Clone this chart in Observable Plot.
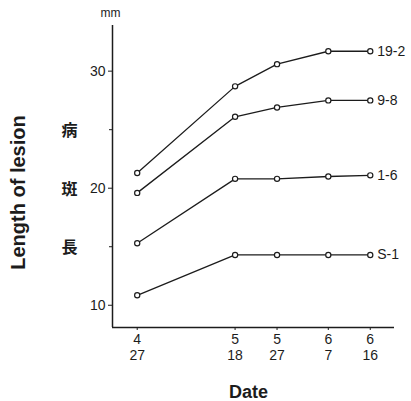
<!DOCTYPE html>
<html><head><meta charset="utf-8">
<script src="https://cdn.jsdelivr.net/npm/d3@7"></script>
<script src="https://cdn.jsdelivr.net/npm/@observablehq/plot@0.6"></script>
<style>body{margin:0;background:#fff}</style>
</head><body><div id="chart"></div>
<script>
// Dates (days after April 27) and their two-line labels (month / day)
const dayOffsets = [0, 21, 30, 41, 50];
const dateLabels = ["4\n27", "5\n18", "5\n27", "6\n7", "6\n16"];
// Series
const seriesNames = ["19-2", "9-8", "1-6", "S-1"];
const values_19_2 = [21.3, 28.7, 30.6, 31.7, 31.7];
const values_9_8  = [19.6, 26.1, 26.9, 27.5, 27.5];
const values_1_6  = [15.3, 20.8, 20.8, 21.0, 21.1];
const values_S_1  = [10.85, 14.3, 14.3, 14.3, 14.3];
const yTickLabels = [10, 20, 30];
const yMinorTicks = [15, 25];

const allValues = [values_19_2, values_9_8, values_1_6, values_S_1];
const rows = [];
seriesNames.forEach((name, i) => {
  dayOffsets.forEach((d, j) => rows.push({series: name, day: d, value: allValues[i][j]}));
});
const ends = rows.filter(r => r.day === dayOffsets[dayOffsets.length - 1]);

const xDomain = [-5.3, 55.2];
const yDomain = [8.1, 33.9];
const ink = "#1c1c1c";
const font = "Liberation Sans, Arial, sans-serif";

const chart = Plot.plot({
  width: 411,
  height: 401,
  marginLeft: 112,
  marginRight: 17,
  marginTop: 25,
  marginBottom: 74,
  style: {fontFamily: font, fontSize: "14px", color: ink, background: "#fff"},
  x: {domain: xDomain},
  y: {domain: yDomain},
  marks: [
    Plot.ruleX([xDomain[0]], {y1: yDomain[0], y2: yDomain[1], stroke: ink, strokeWidth: 1.5}),
    Plot.ruleY([yDomain[0]], {x1: xDomain[0], x2: xDomain[1], stroke: ink, strokeWidth: 1.5}),
    Plot.axisY({ticks: yTickLabels, tickSize: 4, tickPadding: 3, label: null, fontSize: 14, stroke: ink}),
    Plot.axisY({ticks: yMinorTicks, tickSize: 3, tickFormat: () => "", label: null, stroke: ink}),
    Plot.axisX({ticks: dayOffsets, tickSize: 3, tickPadding: 2, label: null, fontSize: 14, lineHeight: 1.15,
      tickFormat: d => dateLabels[dayOffsets.indexOf(d)], stroke: ink}),
    Plot.line(rows, {x: "day", y: "value", z: "series", stroke: ink, strokeWidth: 1.3}),
    Plot.dot(rows, {x: "day", y: "value", r: 2.6, stroke: ink, strokeWidth: 1.2, fill: "#fff"}),
    Plot.text(ends, {x: "day", y: "value", text: "series", dx: 7, textAnchor: "start", fontSize: 14, fill: ink}),
    Plot.text(["mm"], {frameAnchor: "top-left", dx: -12, dy: -17, fontSize: 12, fill: ink}),
    Plot.text(["Length of lesion"], {frameAnchor: "left", textAnchor: "middle", dx: -94, dy: 16, rotate: -90, fontSize: 20, fontWeight: "bold", fill: ink}),
    Plot.text(["病\n\n\n斑\n\n\n長"], {frameAnchor: "left", dx: -51, dy: 12, fontSize: 16, lineHeight: 1.22, fontWeight: "bold", fontFamily: "Noto Sans CJK JP", fill: ink}),
    Plot.text(["Date"], {frameAnchor: "bottom", dx: -5, dy: 70, fontSize: 18, fontWeight: "bold", fill: ink})
  ]
});
document.getElementById("chart").append(chart);
</script>
</body></html>
